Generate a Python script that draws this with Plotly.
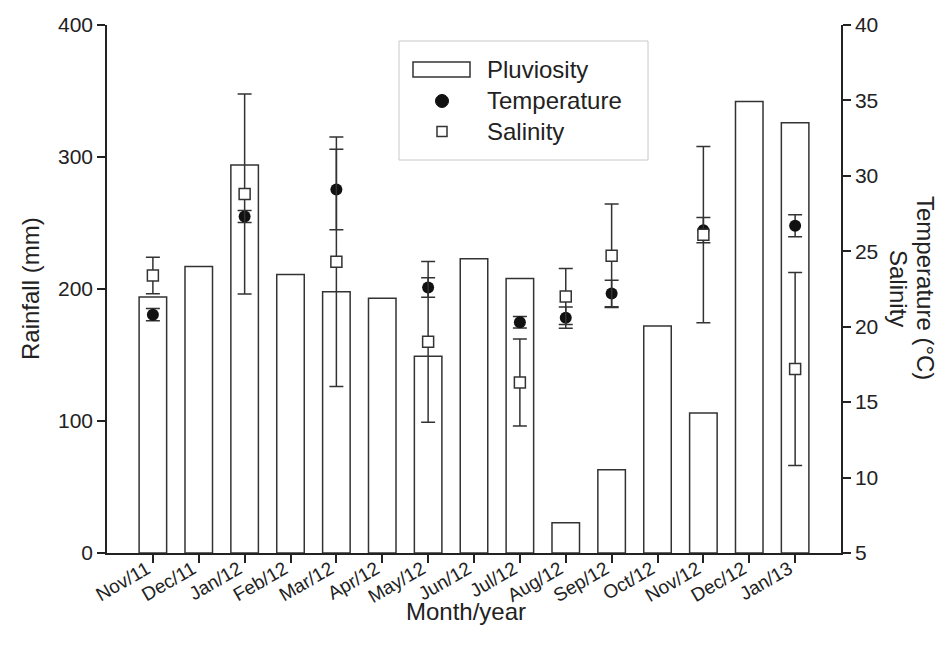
import plotly.graph_objects as go

months = ["Nov/11", "Dec/11", "Jan/12", "Feb/12", "Mar/12", "Apr/12", "May/12", "Jun/12",
          "Jul/12", "Aug/12", "Sep/12", "Oct/12", "Nov/12", "Dec/12", "Jan/13"]
rainfall = [194, 217, 294, 211, 198, 193, 149, 223, 208, 23, 63, 172, 106, 342, 326]
temperature = [20.8, None, 27.3, None, 29.1, None, 22.6, None, 20.3, 20.6, 22.2, None, 26.4, None, 26.7]
temp_err = [0.4, None, 0.4, None, 2.67, None, 0.65, None, 0.38, 0.7, 0.88, None, 0.84, None, 0.73]
salinity = [23.4, None, 28.8, None, 24.3, None, 19.0, None, 16.3, 22.0, 24.7, None, 26.1, None, 17.2]
sal_err = [1.21, None, 6.63, None, 8.27, None, 5.33, None, 2.88, 1.86, 3.43, None, 5.84, None, 6.4]

# page body has an 8px margin; compensate so the plot lands where the reference has it
OFF = 8
SW, SH = 944, 650
W, H = SW - OFF, SH - OFF
X0, X1, Y0, Y1 = 107, 841, 25, 553  # plot area in screen pixels
FONT = "Liberation Sans, Arial, sans-serif"
INK = "#222222"


def px(x):
    return (x - X0) / (X1 - X0)


def py(y):
    return (Y1 - y) / (Y1 - Y0)


fig = go.Figure()
fig.add_trace(go.Bar(
    x=months, y=rainfall, name="Pluviosity", width=0.6,
    marker=dict(color="white", line=dict(color="#333333", width=1.5)),
    showlegend=False,
))
fig.add_trace(go.Scatter(
    x=months, y=temperature, name="Temperature", mode="markers", yaxis="y2",
    marker=dict(symbol="circle", size=12, color="#111111"),
    error_y=dict(type="data", array=temp_err, visible=True, color="#333333", thickness=1.5, width=7),
    showlegend=False,
))
fig.add_trace(go.Scatter(
    x=months, y=salinity, name="Salinity", mode="markers", yaxis="y2",
    marker=dict(symbol="square", size=11, color="white", line=dict(color="#333333", width=1.5)),
    error_y=dict(type="data", array=sal_err, visible=True, color="#333333", thickness=1.5, width=7),
    showlegend=False,
))

axis_common = dict(showline=True, linecolor=INK, linewidth=1.5, ticks="outside", ticklen=8,
                   tickwidth=1.5, tickcolor=INK, showgrid=False, zeroline=False, automargin=False,
                   tickfont=dict(family=FONT, size=21, color=INK))

shapes = [
    dict(type="rect", xref="paper", yref="paper", x0=px(399), x1=px(648), y0=py(41), y1=py(160),
         line=dict(color="#c8c8c8", width=1), fillcolor="white", layer="above"),
    dict(type="rect", xref="paper", yref="paper", x0=px(413), x1=px(470), y0=py(62), y1=py(77),
         line=dict(color="#333333", width=1.5), fillcolor="white", layer="above"),
    dict(type="circle", xref="paper", yref="paper", x0=px(435.5), x1=px(448.5), y0=py(94.5), y1=py(107.5),
         line=dict(color="#111111", width=1), fillcolor="#111111", layer="above"),
    dict(type="rect", xref="paper", yref="paper", x0=px(437), x1=px(447), y0=py(126.5), y1=py(136.5),
         line=dict(color="#333333", width=1.5), fillcolor="white", layer="above"),
]

ann_font = dict(family=FONT, size=24, color=INK)
annotations = [
    dict(text="Pluviosity", x=px(485), y=py(70), xref="paper", yref="paper", xanchor="left",
         yanchor="middle", showarrow=False, font=ann_font),
    dict(text="Temperature", x=px(485), y=py(101), xref="paper", yref="paper", xanchor="left",
         yanchor="middle", showarrow=False, font=ann_font),
    dict(text="Salinity", x=px(485), y=py(131), xref="paper", yref="paper", xanchor="left",
         yanchor="middle", showarrow=False, font=ann_font),
    dict(text="Rainfall (mm)", x=px(30), y=py(289), xref="paper", yref="paper", textangle=-90,
         xanchor="center", yanchor="middle", showarrow=False, font=ann_font),
    dict(text="Temperature (°C)", x=px(926), y=py(288), xref="paper", yref="paper",
         textangle=90, xanchor="center", yanchor="middle", showarrow=False, font=ann_font),
    dict(text="Salinity", x=px(899), y=py(288), xref="paper", yref="paper",
         textangle=90, xanchor="center", yanchor="middle", showarrow=False, font=ann_font),
    dict(text="Month/year", x=px(466), y=py(611), xref="paper", yref="paper",
         xanchor="center", yanchor="middle", showarrow=False, font=ann_font),
]

fig.update_layout(
    width=W, height=H,
    margin=dict(l=X0 - OFF, r=SW - X1, t=Y0 - OFF, b=SH - Y1, pad=0, autoexpand=False),
    paper_bgcolor="white", plot_bgcolor="white",
    xaxis=dict(axis_common, type="category", range=[-1, 15], tickangle=-30,
               ticklabelstandoff=-12, ticklabelshift=-6,
               tickfont=dict(family=FONT, size=19, color=INK)),
    yaxis=dict(axis_common, range=[0, 400], tickvals=[0, 100, 200, 300, 400]),
    yaxis2=dict(axis_common, range=[5, 40], tickvals=[5, 10, 15, 20, 25, 30, 35, 40],
                overlaying="y", side="right"),
    shapes=shapes, annotations=annotations, showlegend=False,
)

fig.write_html("out.html")
